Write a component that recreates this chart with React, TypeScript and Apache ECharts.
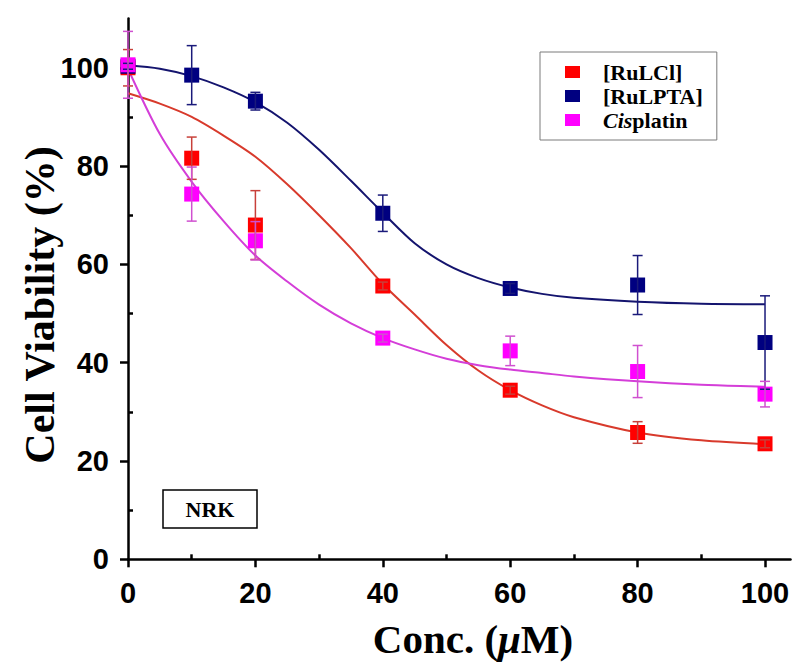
import React, { useEffect, useRef } from "react";
import * as echarts from "echarts";

// ---- data ----
const concentrations = [0, 10, 20, 40, 60, 80, 100];

const rulclMean = [100, 81.6, 68.0, 55.6, 34.4, 25.8, 23.5];
const rulclErr = [3.7, 4.3, 7.0, 0.8, 0.8, 2.2, 0.8];

const rulptaMean = [100.3, 98.5, 93.2, 70.4, 55.1, 55.8, 44.1];
const rulptaErr = [0.6, 6.0, 1.8, 3.7, 1.0, 6.0, 9.5];

const cisMean = [100.6, 74.3, 64.8, 45.0, 42.4, 38.2, 33.6];
const cisErr = [6.8, 5.5, 3.9, 0.8, 3.0, 5.3, 2.6];

// fitted curves
const fitX = [0, 5, 10, 15, 20, 25, 30, 35, 40, 45, 50, 55, 60, 65, 70, 80, 90, 100];
const rulclFit = [94.8, 92.7, 90.0, 86.2, 81.9, 76.3, 70.0, 63.3, 56.0, 49.8, 43.6, 38.4, 34.4, 31.3, 28.9, 25.8, 24.2, 23.4];
const rulptaFit = [100.5, 99.8, 98.3, 96.0, 93.0, 88.8, 83.3, 77.0, 70.5, 64.3, 60.0, 57.2, 55.3, 54.0, 53.2, 52.4, 52.0, 51.9];
const cisFit = [99.8, 86.5, 76.8, 68.8, 61.8, 56.5, 51.8, 48.0, 45.0, 42.7, 40.8, 39.5, 38.6, 37.9, 37.2, 36.2, 35.5, 35.1];

const xMajorTicks = [0, 20, 40, 60, 80, 100];
const xMinorTicks = [10, 30, 50, 70, 90];
const yMajorTicks = [0, 20, 40, 60, 80, 100];
const yMinorTicks = [10, 30, 50, 70, 90];

const SERIES_NAMES = ["[RuLCl]", "[RuLPTA]", "Cisplatin"];
const MARKER_COLORS = ["#ff0000", "#000080", "#ff00ff"];
const LINE_COLORS = ["#d83a2c", "#14146e", "#d43ed8"];
const ERR_COLORS = ["#c8403a", "#1a1a7a", "#d050d0"];

const SERIF = "'Times New Roman', 'Liberation Serif', serif";
const SANS = "Arial, 'Liberation Sans', sans-serif";

function pairs(xs: number[], ys: number[]) {
  return xs.map((x, i) => [x, ys[i]]);
}

function errData(xs: number[], ys: number[], es: number[]) {
  return xs.map((x, i) => [x, ys[i] - es[i], ys[i] + es[i]]);
}

function errSeries(name: string, data: number[][], color: string) {
  return {
    type: "custom",
    name: name + " err",
    xAxisIndex: 0,
    yAxisIndex: 0,
    z: 4,
    data,
    renderItem: (params: any, api: any) => {
      const x = api.value(0);
      const lo = api.coord([x, api.value(1)]);
      const hi = api.coord([x, api.value(2)]);
      const cap = 5;
      const st = { stroke: color, lineWidth: 1.5 };
      return {
        type: "group",
        children: [
          { type: "line", shape: { x1: lo[0], y1: lo[1], x2: hi[0], y2: hi[1] }, style: st },
          { type: "line", shape: { x1: hi[0] - cap, y1: hi[1], x2: hi[0] + cap, y2: hi[1] }, style: st },
          { type: "line", shape: { x1: lo[0] - cap, y1: lo[1], x2: lo[0] + cap, y2: lo[1] }, style: st },
        ],
      };
    },
  };
}

export default function App() {
  const ref = useRef<HTMLDivElement>(null);

  useEffect(() => {
    if (!ref.current) return;
    const chart = echarts.init(ref.current, null, { renderer: "svg" });

    const means = [rulclMean, rulptaMean, cisMean];
    const errs = [rulclErr, rulptaErr, cisErr];
    const fits = [rulclFit, rulptaFit, cisFit];

    const lineSeries = fits.map((f, i) => ({
      type: "line",
      name: SERIES_NAMES[i] + " fit",
      data: pairs(fitX, f),
      smooth: 0.3,
      showSymbol: false,
      symbol: "none",
      z: 2,
      lineStyle: { color: LINE_COLORS[i], width: 2 },
      xAxisIndex: 0,
      yAxisIndex: 0,
    }));

    const scatterSeries = means.map((m, i) => ({
      type: "scatter",
      name: SERIES_NAMES[i],
      data: pairs(concentrations, m),
      symbol: "rect",
      symbolSize: 15,
      z: 3,
      itemStyle: { color: MARKER_COLORS[i], opacity: 1 },
      xAxisIndex: 0,
      yAxisIndex: 0,
    }));

    const errorSeries = means.map((m, i) =>
      errSeries(SERIES_NAMES[i], errData(concentrations, m, errs[i]), ERR_COLORS[i])
    );

    const grid = { left: 128, right: 5.5, top: 18.6, bottom: 102.7, containLabel: false };

    chart.setOption({
      animation: false,
      backgroundColor: "#ffffff",
      grid,
      legend: {
        data: SERIES_NAMES,
        orient: "vertical",
        left: 540,
        top: 52,
        padding: [9, 14, 9, 25],
        borderColor: "#7a7a7a",
        borderWidth: 1,
        itemWidth: 15,
        itemHeight: 12,
        itemGap: 2,
        icon: "rect",
        selectedMode: false,
        formatter: (name: string) =>
          name === "Cisplatin" ? "{i|Cis}{n|platin}" : "{n|" + name + "}",
        textStyle: {
          padding: [0, 0, 0, 18],
          rich: {
            n: { fontFamily: SERIF, fontWeight: "bold", fontSize: 22, color: "#000", lineHeight: 22 },
            i: { fontFamily: SERIF, fontWeight: "bold", fontStyle: "italic", fontSize: 22, color: "#000", lineHeight: 22 },
          },
        },
      },
      xAxis: [
        {
          type: "value",
          min: 0,
          max: 104,
          interval: 20,
          axisLine: { show: true, onZero: false, lineStyle: { color: "#000", width: 2.5 } },
          axisTick: { show: true, inside: false, length: 8, customValues: xMajorTicks, lineStyle: { color: "#000", width: 2.5 } },
          axisLabel: {
            customValues: xMajorTicks,
            margin: 19,
            color: "#000",
            fontFamily: SANS,
            fontWeight: "bold",
            fontSize: 29,
          },
          splitLine: { show: false },
        },
        {
          type: "value",
          min: 0,
          max: 104,
          interval: 10,
          axisLine: { show: false },
          axisTick: { show: true, inside: false, length: 5, customValues: xMinorTicks, lineStyle: { color: "#000", width: 2.5 } },
          axisLabel: { show: false },
          splitLine: { show: false },
        },
      ],
      yAxis: [
        {
          type: "value",
          min: 0,
          max: 110,
          interval: 20,
          axisLine: { show: true, onZero: false, lineStyle: { color: "#000", width: 2.5 } },
          axisTick: { show: true, inside: false, length: 8, customValues: yMajorTicks, lineStyle: { color: "#000", width: 2.5 } },
          axisLabel: {
            customValues: yMajorTicks,
            margin: 19,
            color: "#000",
            fontFamily: SANS,
            fontWeight: "bold",
            fontSize: 29,
          },
          splitLine: { show: false },
        },
        {
          type: "value",
          min: 0,
          max: 110,
          interval: 10,
          axisLine: { show: false },
          axisTick: { show: true, inside: false, length: 5, customValues: yMinorTicks, lineStyle: { color: "#000", width: 2.5 } },
          axisLabel: { show: false },
          splitLine: { show: false },
        },
      ],
      graphic: [
        {
          type: "text",
          x: 40,
          y: 305,
          rotation: Math.PI / 2,
          style: {
            text: "Cell Viability (%)",
            fontFamily: SERIF,
            fontWeight: "bold",
            fontSize: 42,
            fill: "#000",
            align: "center",
            verticalAlign: "middle",
          },
        },
        {
          type: "text",
          x: 473,
          y: 639,
          style: {
            text: "{n|Conc. (}{i|μ}{n|M)}",
            align: "center",
            verticalAlign: "middle",
            rich: {
              n: { fontFamily: SERIF, fontWeight: "bold", fontSize: 41, fill: "#000" },
              i: { fontFamily: SERIF, fontWeight: "bold", fontStyle: "italic", fontSize: 41, fill: "#000" },
            },
          },
        },
        {
          type: "rect",
          shape: { x: 163, y: 490, width: 94, height: 38 },
          style: { fill: "#fff", stroke: "#000", lineWidth: 1.5 },
        },
        {
          type: "text",
          x: 210,
          y: 509,
          style: {
            text: "NRK",
            fontFamily: SERIF,
            fontWeight: "bold",
            fontSize: 22,
            fill: "#000",
            align: "center",
            verticalAlign: "middle",
          },
        },
      ],
      series: [...lineSeries, ...errorSeries, ...scatterSeries],
    });

    return () => chart.dispose();
  }, []);

  return (
    <div
      ref={ref}
      style={{ position: "fixed", left: 0, top: 0, width: 796, height: 662 }}
    />
  );
}
